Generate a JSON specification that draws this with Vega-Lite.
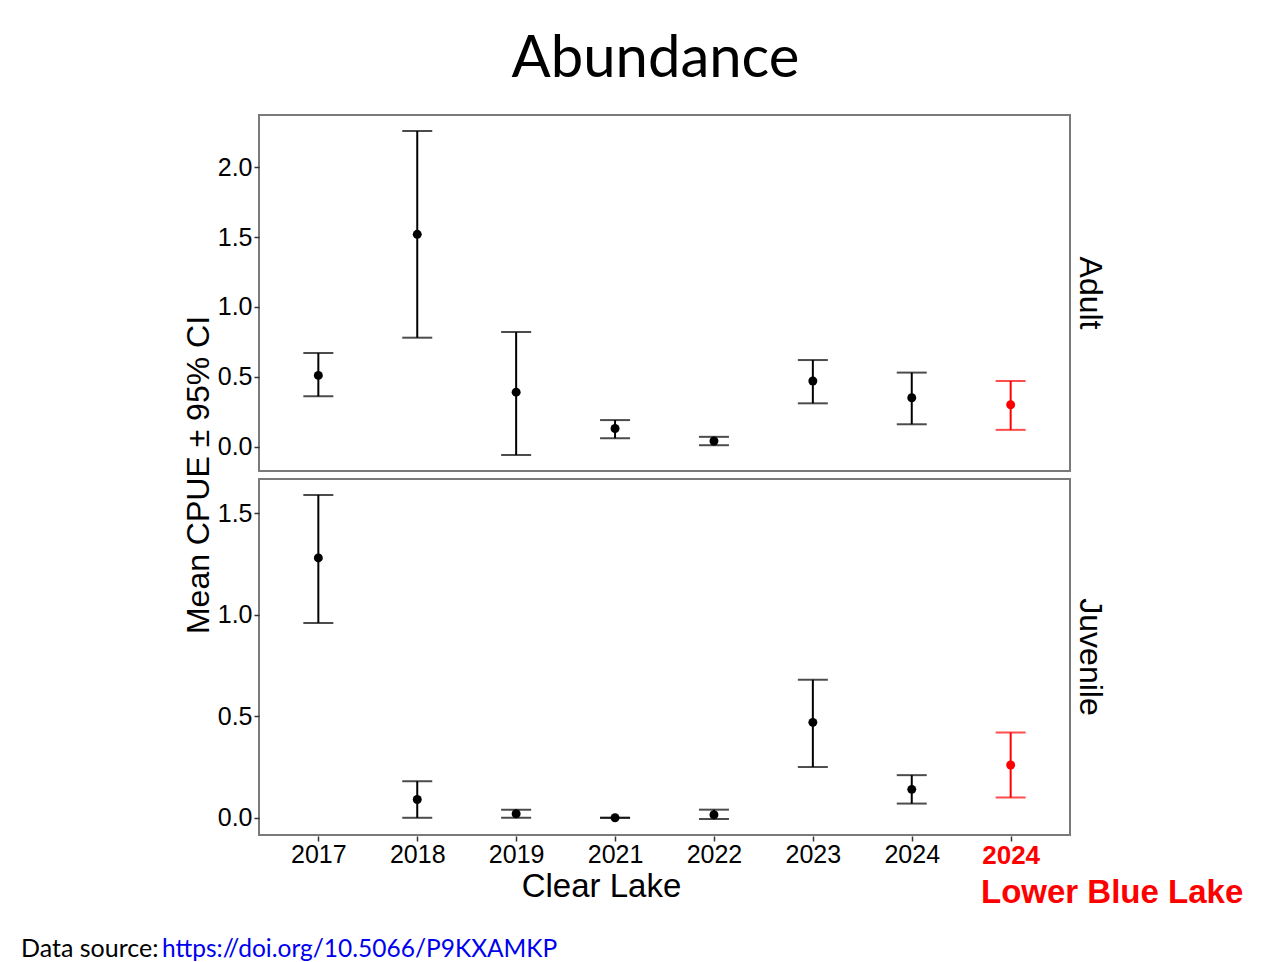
{
  "$schema": "https://vega.github.io/schema/vega-lite/v6.json",
  "background": "white",
  "padding": {"left": 20, "top": 31, "right": 5, "bottom": 5},
  "config": {
    "font": "Liberation Sans",
    "view": {"stroke": "#7a7a7a", "strokeWidth": 2},
    "axis": {"grid": false, "domain": false, "tickColor": "#333333", "tickSize": 5, "tickWidth": 1.5, "labelFont": "Liberation Sans", "labelFontSize": 25, "labelColor": "black"}
  },
  "data": {"values": [
    {"stage": "Adult", "sample": "2017", "lake": "Clear Lake", "mean": 0.51, "lower": 0.36, "upper": 0.67},
    {"stage": "Adult", "sample": "2018", "lake": "Clear Lake", "mean": 1.52, "lower": 0.78, "upper": 2.26},
    {"stage": "Adult", "sample": "2019", "lake": "Clear Lake", "mean": 0.39, "lower": -0.06, "upper": 0.82},
    {"stage": "Adult", "sample": "2021", "lake": "Clear Lake", "mean": 0.13, "lower": 0.06, "upper": 0.19},
    {"stage": "Adult", "sample": "2022", "lake": "Clear Lake", "mean": 0.04, "lower": 0.01, "upper": 0.07},
    {"stage": "Adult", "sample": "2023", "lake": "Clear Lake", "mean": 0.47, "lower": 0.31, "upper": 0.62},
    {"stage": "Adult", "sample": "2024", "lake": "Clear Lake", "mean": 0.35, "lower": 0.16, "upper": 0.53},
    {"stage": "Adult", "sample": "2024 LBL", "lake": "Lower Blue Lake", "mean": 0.30, "lower": 0.12, "upper": 0.47},
    {"stage": "Juvenile", "sample": "2017", "lake": "Clear Lake", "mean": 1.28, "lower": 0.96, "upper": 1.59},
    {"stage": "Juvenile", "sample": "2018", "lake": "Clear Lake", "mean": 0.09, "lower": 0.0, "upper": 0.18},
    {"stage": "Juvenile", "sample": "2019", "lake": "Clear Lake", "mean": 0.02, "lower": 0.0, "upper": 0.04},
    {"stage": "Juvenile", "sample": "2021", "lake": "Clear Lake", "mean": 0.0, "lower": 0.0, "upper": 0.0},
    {"stage": "Juvenile", "sample": "2022", "lake": "Clear Lake", "mean": 0.015, "lower": -0.006, "upper": 0.04},
    {"stage": "Juvenile", "sample": "2023", "lake": "Clear Lake", "mean": 0.47, "lower": 0.25, "upper": 0.68},
    {"stage": "Juvenile", "sample": "2024", "lake": "Clear Lake", "mean": 0.14, "lower": 0.07, "upper": 0.21},
    {"stage": "Juvenile", "sample": "2024 LBL", "lake": "Lower Blue Lake", "mean": 0.26, "lower": 0.10, "upper": 0.42}
  ]},
  "title": {"text": "Data source:", "orient": "bottom", "anchor": "start", "frame": "bounds", "dx": -141, "offset": -25, "font": "Lato", "fontSize": 25, "fontWeight": "normal", "color": "black"},
  "vconcat": [{
    "title": {"text": "https://doi.org/10.5066/P9KXAMKP", "orient": "bottom", "anchor": "start", "frame": "bounds", "dx": -21, "offset": 28, "font": "Lato", "fontSize": 24.5, "fontWeight": "normal", "color": "#0000EE"},
    "vconcat": [{
      "title": {"text": "Lower Blue Lake", "orient": "bottom", "anchor": "start", "frame": "bounds", "dx": 798, "offset": -26, "font": "Liberation Sans", "fontSize": 33, "fontWeight": "bold", "color": "#FF0000"},
      "vconcat": [{
        "title": {"text": "Abundance", "anchor": "middle", "frame": "bounds", "dx": 11, "font": "Lato", "fontSize": 58, "fontWeight": "normal", "color": "black", "offset": 25},
        "facet": {
          "row": {
            "field": "stage", "type": "nominal", "sort": ["Adult", "Juvenile"],
            "title": "Mean CPUE ± 95% CI",
            "header": {
              "labelOrient": "right", "labelAngle": 90, "labelFont": "Liberation Sans", "labelFontSize": 32, "labelColor": "black", "labelPadding": 2,
              "titleOrient": "left", "titleFont": "Liberation Sans", "titleFontSize": 32, "titleFontWeight": "normal", "titleColor": "black", "titlePadding": -10
            }
          }
        },
        "spacing": {"row": 6},
        "resolve": {"scale": {"y": "independent"}},
        "spec": {
          "width": 811,
          "height": 356,
          "encoding": {
            "x": {
              "field": "sample", "type": "ordinal",
              "sort": ["2017", "2018", "2019", "2021", "2022", "2023", "2024", "2024 LBL"],
              "scale": {"type": "point", "padding": 0.6},
              "axis": {
                "title": "Clear Lake", "titleX": 342, "titleFont": "Liberation Sans", "titleFontSize": 33, "titleFontWeight": "normal", "titleColor": "black", "titlePadding": 2,
                "labelAngle": 0, "labelPadding": 1,
                "labelExpr": "datum.value == '2024 LBL' ? '2024' : datum.value",
                "labelColor": {"condition": {"test": "datum.value == '2024 LBL'", "value": "#FF0000"}, "value": "black"},
                "labelFontWeight": {"condition": {"test": "datum.value == '2024 LBL'", "value": "bold"}, "value": "normal"},
                "labelFontSize": {"condition": {"test": "datum.value == '2024 LBL'", "value": 26}, "value": 25}
              }
            },
            "color": {"field": "lake", "type": "nominal", "scale": {"domain": ["Clear Lake", "Lower Blue Lake"], "range": ["black", "#FF0000"]}, "legend": null}
          },
          "layer": [
            {
              "mark": {"type": "rule", "strokeWidth": 2},
              "encoding": {
                "y": {"field": "lower", "type": "quantitative", "title": null, "scale": {"zero": false, "nice": false, "padding": 16}, "axis": {"title": null, "tickCount": 5, "format": ".1f", "labelPadding": 2}},
                "y2": {"field": "upper"}
              }
            },
            {
              "mark": {"type": "tick", "thickness": 2, "size": 30, "orient": "horizontal"},
              "encoding": {"y": {"field": "lower", "type": "quantitative", "title": null}}
            },
            {
              "mark": {"type": "tick", "thickness": 2, "size": 30, "orient": "horizontal"},
              "encoding": {"y": {"field": "upper", "type": "quantitative", "title": null}}
            },
            {
              "mark": {"type": "point", "filled": true, "size": 80, "opacity": 1},
              "encoding": {"y": {"field": "mean", "type": "quantitative", "title": null}}
            }
          ]
        }
      }]
    }]
  }]
}
